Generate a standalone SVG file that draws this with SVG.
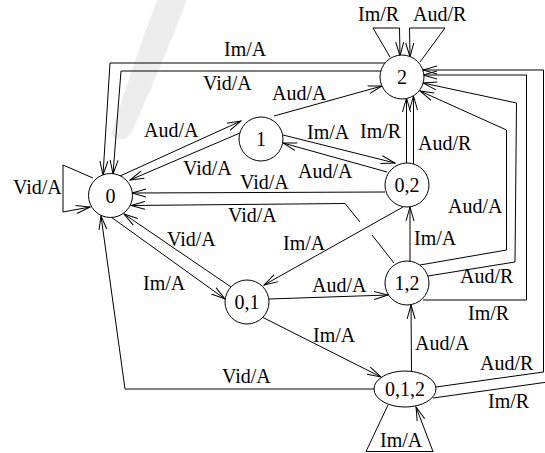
<svg xmlns="http://www.w3.org/2000/svg" width="545" height="453" viewBox="0 0 545 453">
<style>
.n{fill:#fff;stroke:#000;stroke-width:1}
.c{fill:none;stroke:#000;stroke-width:1;marker-end:url(#a)}
.p{fill:none;stroke:#000;stroke-width:1}
text{font-family:"Liberation Serif","Times New Roman",serif;font-size:20px;fill:#000}
.m{text-anchor:middle}
</style>
<defs>
<marker id="a" markerUnits="userSpaceOnUse" markerWidth="15" markerHeight="10" viewBox="0 0 15 10" refX="14" refY="5" orient="auto">
<path d="M0,1 L14,5 L0,9" fill="none" stroke="#000" stroke-width="1"/>
</marker>
</defs>
<rect width="545" height="453" fill="#fff"/>
<path id="watermark" d="M157,0 L187,0 C170,45 150,90 132,132 Q122,146 111,134 C125,90 140,45 157,0 Z" fill="#ededed"/>
<g id="connectors">
<path class="c" d="M386,63 L110,63 L103,175"/>
<path class="c" d="M381,71 L121,71 L113,174"/>
<path class="c" d="M93,178 L63,165 L63,212 L90,207"/>
<path class="c" d="M390,57 L373,28 L399.5,28 L400,56"/>
<path class="p" d="M420,62 L445,28 L409.5,28"/>
<path class="c" d="M409.5,28 L410,57"/>
<path class="c" d="M388,405 L366,451.5 L433,451.5 L416,407"/>
<path class="c" d="M120,176 L241,121"/>
<path class="c" d="M240,133 L130,180"/>
<path class="c" d="M274,116 L382,86"/>
<path class="c" d="M283,135 L395,163"/>
<path class="c" d="M387,172 L283,143"/>
<path class="c" d="M406.5,163 L406.5,98"/>
<path class="c" d="M413.5,164 L413.5,96"/>
<path class="c" d="M385,192 L132,193"/>
<path class="c" d="M394,263 L372,235 M360,222 L345,203.5 L131,205.5"/>
<path class="c" d="M111,217 L225,299"/>
<path class="c" d="M231,287 L124,214"/>
<path class="c" d="M403,207 L264,285"/>
<path class="c" d="M269,299 L388,295"/>
<path class="c" d="M410,261 L410,207"/>
<path class="c" d="M420,265 L506.5,250 L506.5,130 L420,91"/>
<path class="c" d="M428,276 L515,262 L516.5,103 L423,83"/>
<path class="c" d="M423,300 L526.5,300 L526.5,75 L423,75"/>
<path class="c" d="M436,387 L543.5,372 L543.5,70 L423,70"/>
<path class="p" d="M433,398 L548,382"/>
<path class="c" d="M262,317 L381,377"/>
<path class="c" d="M411.5,371 L411,305"/>
<path class="c" d="M374,389 L125,389 L101,216"/>
<text x="224" y="56">Im/A</text>
<text x="203" y="90">Vid/A</text>
<text x="144" y="137">Aud/A</text>
<text x="183" y="175">Vid/A</text>
<text x="272" y="100">Aud/A</text>
<text x="307" y="139">Im/A</text>
<text x="360" y="138">Im/R</text>
<text x="418" y="150">Aud/R</text>
<text x="298" y="178">Aud/A</text>
<text x="240" y="189">Vid/A</text>
<text x="228" y="222">Vid/A</text>
<text x="167" y="246">Vid/A</text>
<text x="143" y="290">Im/A</text>
<text x="283" y="250">Im/A</text>
<text x="414" y="245">Im/A</text>
<text x="448" y="213">Aud/A</text>
<text x="460" y="283">Aud/R</text>
<text x="468" y="320">Im/R</text>
<text x="312" y="292">Aud/A</text>
<text x="313" y="342">Im/A</text>
<text x="415" y="350">Aud/A</text>
<text x="480" y="370">Aud/R</text>
<text x="488" y="408">Im/R</text>
<text x="222" y="383">Vid/A</text>
<text x="13" y="194">Vid/A</text>
<text x="358" y="21">Im/R</text>
<text x="413" y="21">Aud/R</text>
<text x="380" y="447">Im/A</text>
</g>
<g id="node-0"><circle class="n" cx="110.5" cy="195.5" r="22"/><text class="m" x="110.5" y="202.5">0</text></g>
<g id="node-1"><circle class="n" cx="261" cy="139" r="22"/><text class="m" x="261" y="146">1</text></g>
<g id="node-2"><circle class="n" cx="402" cy="77" r="22"/><text class="m" x="402" y="84">2</text></g>
<g id="node-02"><circle class="n" cx="407" cy="185" r="22"/><text class="m" x="407" y="192">0,2</text></g>
<g id="node-12"><circle class="n" cx="407" cy="283" r="22"/><text class="m" x="407" y="290">1,2</text></g>
<g id="node-01"><circle class="n" cx="247" cy="302" r="22"/><text class="m" x="247" y="309">0,1</text></g>
<g id="node-012"><ellipse class="n" cx="405" cy="389" rx="31" ry="18"/><text class="m" x="405" y="396">0,1,2</text></g>
</svg>
